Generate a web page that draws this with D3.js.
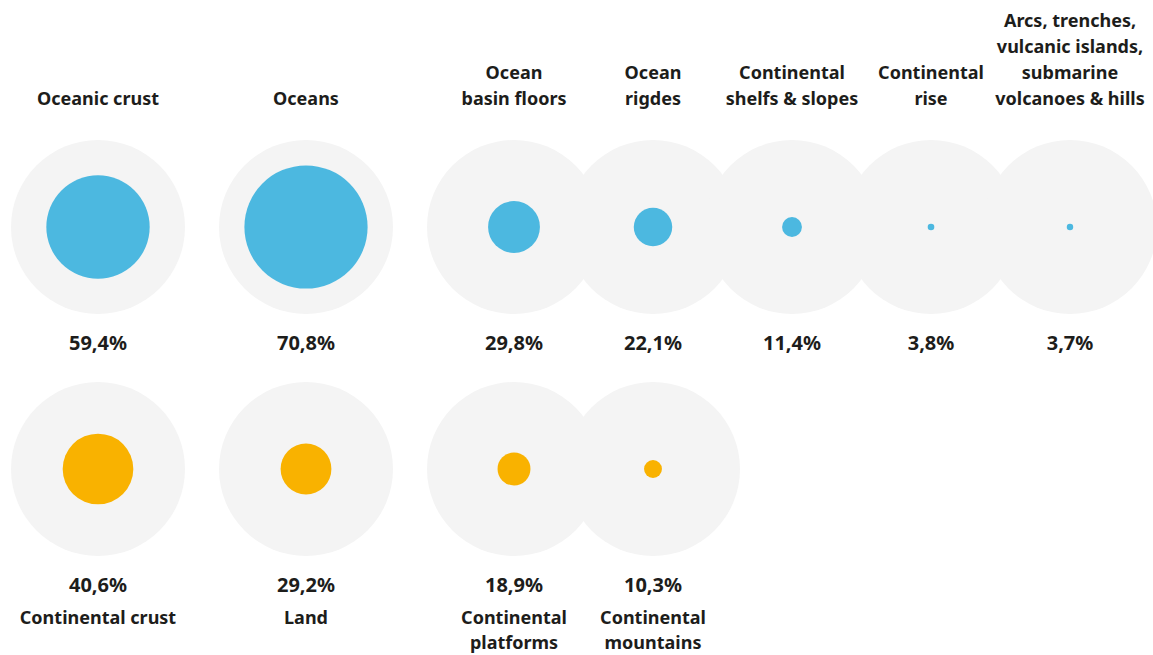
<!DOCTYPE html>
<html>
<head>
<meta charset="utf-8">
<script src="https://cdn.jsdelivr.net/npm/d3@7"></script>
<style>
	body { margin: 0; background: #fff; }
	text { font-family: "Noto Sans", sans-serif; font-weight: 700; fill: #1d1d1b; font-size: 18px; }
	text.pct { font-size: 20px; }
</style>
</head>
<body>
<svg id="chart"></svg>
<script>
// top row (oceanic) - labels above the circles, lines split by "|"
const oceanLabels = ["Oceanic crust", "Oceans", "Ocean|basin floors", "Ocean|rigdes", "Continental|shelfs & slopes", "Continental|rise", "Arcs, trenches,|vulcanic islands,|submarine|volcanoes & hills"]
const oceanValues = [59.4, 70.8, 29.8, 22.1, 11.4, 3.8, 3.7]

// bottom row (continental) - labels below the percentages
const landLabels = ["Continental crust", "Land", "Continental|platforms", "Continental|mountains"]
const landValues = [40.6, 29.2, 18.9, 10.3]

const width = 1153
const height = 655

const svg = d3.select("#chart")
	.attr("width", width)
	.attr("height", height)

// column centres: two standalone columns, then a touching group
function colX(i) {
	if (i < 2) return 98 + i * 208
	return 514 + (i - 2) * 139
}

const r = d3.scaleLinear()
	.domain([0, 100])
	.range([0, 87])

const fmt = v => d3.format(".1f")(v).replace(".", ",") + "%"

function drawRow(values, labels, cy, color, labelsAbove) {
	const g = svg.append("g")

	g.selectAll("circle.bg")
		.data(values)
		.enter()
		.append("circle")
		.attr("class", "bg")
		.attr("cx", (d, i) => colX(i))
		.attr("cy", cy)
		.attr("r", r(100))
		.style("fill", "#f4f4f4")

	g.selectAll("circle.val")
		.data(values)
		.enter()
		.append("circle")
		.attr("class", "val")
		.attr("cx", (d, i) => colX(i))
		.attr("cy", cy)
		.attr("r", d => r(d))
		.style("fill", color)

	g.selectAll("text.pct")
		.data(values)
		.enter()
		.append("text")
		.attr("class", "pct")
		.attr("x", (d, i) => colX(i))
		.attr("y", cy + 123)
		.attr("text-anchor", "middle")
		.text(d => fmt(d))

	const lab = g.selectAll("text.lab")
		.data(labels)
		.enter()
		.append("text")
		.attr("class", "lab")
		.attr("text-anchor", "middle")

	lab.each(function (d, i) {
		const lines = d.split("|")
		const t = d3.select(this)
		lines.forEach((line, j) => {
			let y
			if (labelsAbove) y = cy - 122 - (lines.length - 1 - j) * 26
			else y = cy + 155 + j * 25
			t.append("tspan")
				.attr("x", colX(i))
				.attr("y", y)
				.text(line)
		})
	})
}

drawRow(oceanValues, oceanLabels, 227, "#4cb8e0", true)
drawRow(landValues, landLabels, 469, "#f9b200", false)
</script>
</body>
</html>
